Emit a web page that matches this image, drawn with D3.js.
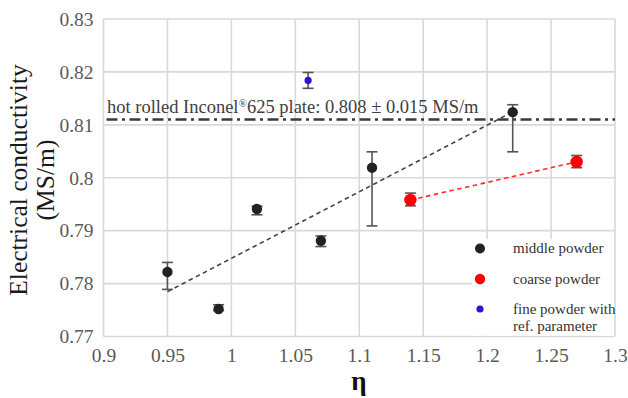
<!DOCTYPE html>
<html>
<head>
<meta charset="utf-8">
<script src="https://cdn.jsdelivr.net/npm/d3@7"></script>
<style>
  html, body { margin: 0; padding: 0; background: #fff; }
  svg text { font-family: 'Liberation Serif', 'Times New Roman', 'DejaVu Serif', serif; }
</style>
</head>
<body>
<svg id="chart" width="628" height="398"></svg>
<script>
// Electrical conductivity vs. η for three powder fractions
const xTicks = [0.9, 0.95, 1, 1.05, 1.1, 1.15, 1.2, 1.25, 1.3];
const yTicks = [0.77, 0.78, 0.79, 0.8, 0.81, 0.82, 0.83];

// middle powder
const middleEta  = [0.95, 0.99, 1.02, 1.07, 1.11, 1.22];
const middleVal  = [0.7822, 0.7752, 0.7941, 0.7881, 0.8019, 0.8124];
const middleLow  = [0.7789, 0.7749, 0.7930, 0.7870, 0.7909, 0.8049];
const middleHigh = [0.7840, 0.7760, 0.7946, 0.7890, 0.8049, 0.8138];

// coarse powder
const coarseEta  = [1.14, 1.27];
const coarseVal  = [0.7958, 0.8030];
const coarseLow  = [0.7947, 0.8019];
const coarseHigh = [0.7971, 0.8042];

// fine powder with reference parameter
const fineEta  = [1.06];
const fineVal  = [0.8184];
const fineLow  = [0.8169];
const fineHigh = [0.8199];

// reference plate conductivity line
const refValue = 0.811;
const refLabel = "hot rolled Inconel";
const refLabelTail = "625 plate: 0.808 ± 0.015 MS/m";

const legendLabels = [["middle powder"], ["coarse powder"], ["fine powder with", "ref. parameter"]];
const colors = { middle: "#222222", coarse: "#ff0000", fine: "#3311dd" };

const svg = d3.select("#chart");
const plot = { left: 103.5, right: 615, top: 19, bottom: 336.5 };

const x = d3.scaleLinear().domain([0.9, 1.3]).range([plot.left, plot.right]);
const y = d3.scaleLinear().domain([0.77, 0.83]).range([plot.bottom, plot.top]);

const gridColor = "#d9d9d9";

// grid
const grid = svg.append("g");
grid.selectAll(".vg").data(xTicks).join("line")
  .attr("x1", d => x(d)).attr("x2", d => x(d))
  .attr("y1", plot.top).attr("y2", plot.bottom)
  .attr("stroke", gridColor).attr("stroke-width", 1.6);
grid.selectAll(".hg").data(yTicks).join("line")
  .attr("x1", plot.left).attr("x2", plot.right)
  .attr("y1", d => y(d)).attr("y2", d => y(d))
  .attr("stroke", gridColor).attr("stroke-width", 1.6);

// axes (labels only; lines come from the grid)
const xAxis = svg.append("g").attr("transform", `translate(0,${plot.bottom})`)
  .call(d3.axisBottom(x).tickValues(xTicks).tickSize(0).tickPadding(12).tickFormat(d3.format("")));
const yAxis = svg.append("g").attr("transform", `translate(${plot.left},0)`)
  .call(d3.axisLeft(y).tickValues(yTicks).tickSize(0).tickPadding(10).tickFormat(d3.format("")));
[xAxis, yAxis].forEach(a => {
  a.attr("font-family", null).attr("font-size", null);
  a.select(".domain").remove();
  a.selectAll("text").attr("font-size", 19.5).attr("fill", "#595959");
});
xAxis.selectAll("text").attr("dy", "0.71em");

// reference line
svg.append("line")
  .attr("x1", x(0.9) + 3).attr("x2", x(1.3))
  .attr("y1", y(refValue)).attr("y2", y(refValue))
  .attr("stroke", "#3a3a3a").attr("stroke-width", 2.6)
  .attr("stroke-dasharray", "11 4.5 3 4.5");

const refText = svg.append("text")
  .attr("x", 107).attr("y", 113)
  .attr("font-size", 18.5).attr("fill", "#404040");
refText.append("tspan").text(refLabel);
refText.append("tspan").attr("font-size", 11).attr("dy", -6).text("®");
refText.append("tspan").attr("dy", 6).text(refLabelTail);

// least-squares trend through the points of a series
function fit(xs, ys) {
  const mx = d3.mean(xs), my = d3.mean(ys);
  const sxy = d3.sum(xs, (v, i) => (v - mx) * (ys[i] - my));
  const sxx = d3.sum(xs, v => (v - mx) ** 2);
  const b = sxy / sxx;
  return v => my + b * (v - mx);
}
function trend(xs, ys, color) {
  const f = fit(xs, ys);
  const x0 = d3.min(xs), x1 = d3.max(xs);
  svg.append("line")
    .attr("x1", x(x0)).attr("y1", y(f(x0)))
    .attr("x2", x(x1)).attr("y2", y(f(x1)))
    .attr("stroke", color).attr("stroke-width", 1.6)
    .attr("stroke-dasharray", "4.5 3.5");
}
trend(middleEta, middleVal, "#444444");
trend(coarseEta, coarseVal, "#ff2a2a");

// error bars and markers
function series(eta, val, lo, hi, color, r) {
  const g = svg.append("g");
  const eb = g.selectAll("g").data(eta).join("g");
  eb.append("line")
    .attr("x1", d => x(d)).attr("x2", d => x(d))
    .attr("y1", (d, i) => y(lo[i])).attr("y2", (d, i) => y(hi[i]));
  eb.append("line")
    .attr("x1", d => x(d) - 5.5).attr("x2", d => x(d) + 5.5)
    .attr("y1", (d, i) => y(lo[i])).attr("y2", (d, i) => y(lo[i]));
  eb.append("line")
    .attr("x1", d => x(d) - 5.5).attr("x2", d => x(d) + 5.5)
    .attr("y1", (d, i) => y(hi[i])).attr("y2", (d, i) => y(hi[i]));
  eb.selectAll("line").attr("stroke", "#555555").attr("stroke-width", 1.6);
  g.selectAll("circle").data(eta).join("circle")
    .attr("cx", d => x(d)).attr("cy", (d, i) => y(val[i]))
    .attr("r", r).attr("fill", color);
}
series(middleEta, middleVal, middleLow, middleHigh, colors.middle, 5.2);
series(coarseEta, coarseVal, coarseLow, coarseHigh, colors.coarse, 6.2);
series(fineEta, fineVal, fineLow, fineHigh, colors.fine, 3.6);

// legend
const legend = svg.append("g");
legend.append("rect")
  .attr("x", 472).attr("y", 239).attr("width", plot.right - 472 - 1).attr("height", plot.bottom - 239 - 1)
  .attr("fill", "#fff");
const legendColors = [colors.middle, colors.coarse, colors.fine];
const legendR = [5, 5.2, 3.6];
const legendY = [248.5, 279, 309];
legendLabels.forEach((lines, i) => {
  legend.append("circle").attr("cx", 480).attr("cy", legendY[i]).attr("r", legendR[i]).attr("fill", legendColors[i]);
  const t = legend.append("text").attr("x", 513).attr("y", legendY[i] + 4.5)
    .attr("font-size", 15).attr("fill", "#333");
  lines.forEach((s, k) => t.append("tspan").attr("x", 513).attr("dy", k === 0 ? 0 : 17).text(s));
});

// axis titles
const yTitle = svg.append("text")
  .attr("transform", "translate(27,180) rotate(-90)")
  .attr("text-anchor", "middle").attr("font-size", 25.5).attr("fill", "#1a1a1a");
yTitle.append("tspan").attr("x", 0).attr("dy", 0).text("Electrical conductivity");
yTitle.append("tspan").attr("x", 0).attr("dy", 27).text("(MS/m)");

svg.append("text")
  .attr("x", 359).attr("y", 390).attr("text-anchor", "middle")
  .attr("font-size", 27).attr("font-weight", "bold").attr("fill", "#111")
  .text("η");
</script>
</body>
</html>
